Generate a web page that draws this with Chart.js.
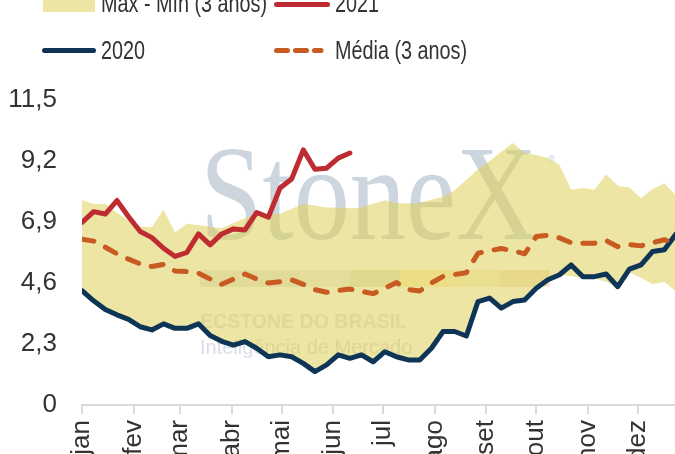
<!DOCTYPE html>
<html lang="pt-BR">
<head>
<meta charset="utf-8">
<title>Máx - Mín (3 anos)</title>
<script src="https://cdn.jsdelivr.net/npm/chart.js@4.4.1/dist/chart.umd.min.js"></script>
<style>
    html, body { margin: 0; padding: 0; background: #ffffff; }
    #moldura { position: relative; width: 675px; height: 454px; overflow: hidden; }
    #grafico { position: absolute; left: 0; top: 0; }
</style>
</head>
<body>
<div id="moldura"><canvas id="grafico" width="700" height="500"></canvas></div>
<script>
// Rótulos dos meses e dia do ano em que cada mês começa (o eixo x é em semanas)
const meses = ['jan', 'fev', 'mar', 'abr', 'mai', 'jun', 'jul', 'ago', 'set', 'out', 'nov', 'dez'];
const inicioMesesDias = [0, 31, 59, 90, 120, 151, 181, 212, 243, 273, 304, 334];
const ticksY = [0, 2.3, 4.6, 6.9, 9.2, 11.5];

// Séries semanais
const maximo3anos = [7.72, 7.58, 7.58, 7.25, 6.95, 6.73, 6.7, 7.36, 6.5, 6.83, 6.79, 6.72, 6.66, 6.86, 7.05, 7.2, 7.2, 7.2, 7.4, 7.58,
    7.52, 7.45, 7.45, 7.42, 7.45, 7.6, 7.71, 7.62, 7.6, 7.62, 7.75, 7.85, 8.1, 8.49, 8.89, 9.2, 9.55, 9.88, 9.5, 9.43,
    9.3, 9.05, 8.12, 8.18, 8.12, 8.7, 8.27, 8.2, 7.8, 8.14, 8.36, 7.9];
const minimo3anos = [4.31, 3.93, 3.6, 3.4, 3.23, 2.95, 2.83, 3.06, 2.89, 2.89, 3.06, 2.62, 2.4, 2.26, 2.39, 2.14, 1.82, 1.89, 1.82, 1.57,
    1.26, 1.51, 1.89, 1.76, 1.89, 1.63, 2.01, 1.82, 1.7, 1.7, 2.14, 2.77, 2.77, 2.6, 3.9, 4.03, 3.65, 3.9, 3.96, 4.4,
    4.72, 4.91, 4.85, 4.8, 4.78, 4.65, 4.46, 5.0, 4.8, 4.55, 4.65, 4.28];
const serie2021 = [6.88, 7.29, 7.2, 7.71, 7.1, 6.54, 6.31, 5.91, 5.6, 5.75, 6.45, 6.04, 6.45, 6.64, 6.6, 7.26, 7.08, 8.18, 8.52, 9.62,
    8.89, 8.93, 9.31, 9.5];
const serie2020 = [4.31, 3.93, 3.6, 3.4, 3.23, 2.95, 2.83, 3.06, 2.89, 2.89, 3.06, 2.62, 2.4, 2.26, 2.39, 2.14, 1.82, 1.89, 1.82, 1.57,
    1.26, 1.51, 1.89, 1.76, 1.89, 1.63, 2.01, 1.82, 1.7, 1.7, 2.14, 2.77, 2.77, 2.6, 3.9, 4.03, 3.65, 3.9, 3.96, 4.4,
    4.72, 4.91, 5.28, 4.84, 4.84, 4.94, 4.46, 5.12, 5.28, 5.79, 5.85, 6.45];
const media3anos = [6.25, 6.18, 5.95, 5.7, 5.5, 5.32, 5.22, 5.3, 5.05, 5.03, 4.97, 4.75, 4.55, 4.75, 4.94, 4.75, 4.6, 4.65, 4.72, 4.55,
    4.35, 4.25, 4.32, 4.37, 4.28, 4.2, 4.4, 4.62, 4.35, 4.3, 4.6, 4.85, 4.92, 4.99, 5.72, 5.82, 5.9, 5.82, 5.7, 6.35,
    6.4, 6.3, 6.12, 6.1, 6.1, 6.2, 5.97, 6.05, 6.0, 6.12, 6.23, 6.1];

// Cores
const cor2021 = '#be2b31';
const cor2020 = '#0e3556';
const corMedia = '#c85a22';
const corFaixa = 'rgba(222, 207, 85, 0.54)';
const corTexto = '#333333';
const corEixo = '#d9d9d9';

const fonteTicks = '"Liberation Sans", Arial, sans-serif';
const fonteLegenda = '25px "Liberation Sans", Arial, sans-serif';

const pontos = (valores) => valores.map((v, i) => ({ x: i, y: v }));

// texto comprimido na horizontal (a fonte original é mais estreita)
const textoEstreito = (ctx, texto, x, y, fator) => {
    ctx.save();
    ctx.translate(x, y);
    ctx.scale(fator, 1);
    ctx.fillText(texto, 0, 0);
    ctx.restore();
};

// Marca d'água StoneX (desenhada antes das séries, fica por baixo da faixa amarela)
const marcaDagua = {
    id: 'marcaDagua',
    beforeDatasetsDraw(chart) {
        const ctx = chart.ctx;
        ctx.save();

        // faixa de cores do logo, bem suave
        const faixa = ['#c4c8cc', '#c4c8cc', '#d3d6d8', '#b4c48c', '#f4dc5c', '#f1e394', '#e8b878'];
        ctx.globalAlpha = 0.4;
        faixa.forEach((c, i) => {
            ctx.fillStyle = c;
            ctx.fillRect(200 + i * 50, 270, 50, 17);
        });
        ctx.globalAlpha = 1;

        // "StoneX"
        ctx.fillStyle = '#cdd6de';
        ctx.font = '136px "Liberation Serif", "DejaVu Serif", serif';
        ctx.textBaseline = 'alphabetic';
        const larg = ctx.measureText('StoneX').width;
        textoEstreito(ctx, 'StoneX', 200, 239, 337 / larg);
        ctx.font = '10px "Liberation Sans", sans-serif';
        ctx.fillText('®', 548, 163);

        // textos do logo
        ctx.fillStyle = '#e0e3e6';
        ctx.font = 'bold 21px "Liberation Sans", sans-serif';
        textoEstreito(ctx, 'ECSTONE DO BRASIL', 200, 328, 207 / ctx.measureText('ECSTONE DO BRASIL').width);

        ctx.fillStyle = '#d9dde7';
        ctx.font = '20px "Liberation Sans", sans-serif';
        ctx.fillText('Inteligência de Mercado', 200, 354);
        ctx.restore();
    }
};

// Legenda desenhada à mão, em duas colunas como no original
const legendaManual = {
    id: 'legendaManual',
    afterDraw(chart) {
        const ctx = chart.ctx;
        const rotulos = chart.data.datasets.map(d => d.label);
        ctx.save();
        ctx.font = fonteLegenda;
        ctx.textBaseline = 'alphabetic';
        const fator = 132 / ctx.measureText(rotulos[1]).width;

        // linha 1
        ctx.fillStyle = corFaixa;
        ctx.fillRect(43, -8, 52, 20);
        ctx.fillStyle = corTexto;
        textoEstreito(ctx, rotulos[3], 101, 12, fator);

        ctx.lineCap = 'round';
        ctx.lineWidth = 5;
        ctx.strokeStyle = cor2021;
        ctx.beginPath(); ctx.moveTo(276.5, 4.5); ctx.lineTo(327.5, 4.5); ctx.stroke();
        textoEstreito(ctx, rotulos[0], 335, 12, fator);

        // linha 2
        ctx.strokeStyle = cor2020;
        ctx.beginPath(); ctx.moveTo(44.5, 50.5); ctx.lineTo(93.5, 50.5); ctx.stroke();
        textoEstreito(ctx, rotulos[2], 101, 59, fator);

        ctx.strokeStyle = corMedia;
        ctx.setLineDash([11, 8]);
        ctx.beginPath(); ctx.moveTo(276.5, 50.5); ctx.lineTo(321, 50.5); ctx.stroke();
        ctx.setLineDash([]);
        textoEstreito(ctx, rotulos[1], 335, 59, fator);
        ctx.restore();
    }
};

const contesto = document.getElementById('grafico').getContext('2d');

new Chart(contesto, {
    type: 'line',
    data: {
        datasets: [
            {
                label: '2021',
                data: pontos(serie2021),
                borderColor: cor2021,
                borderWidth: 5,
                borderJoinStyle: 'round',
                borderCapStyle: 'round',
                pointRadius: 0,
                fill: false,
                order: 1
            },
            {
                label: 'Média (3 anos)',
                data: pontos(media3anos),
                borderColor: corMedia,
                borderWidth: 5,
                borderDash: [12, 13],
                borderJoinStyle: 'round',
                borderCapStyle: 'round',
                pointRadius: 0,
                fill: false,
                order: 2
            },
            {
                label: '2020',
                data: pontos(serie2020),
                borderColor: cor2020,
                borderWidth: 5,
                borderJoinStyle: 'round',
                borderCapStyle: 'round',
                pointRadius: 0,
                fill: false,
                order: 3
            },
            {
                label: 'Máx - Mín (3 anos)',
                data: pontos(maximo3anos),
                borderColor: 'rgba(0,0,0,0)',
                borderWidth: 0,
                backgroundColor: corFaixa,
                pointRadius: 0,
                fill: '+1',
                order: 4
            },
            {
                label: 'mín',
                data: pontos(minimo3anos),
                borderColor: 'rgba(0,0,0,0)',
                borderWidth: 0,
                pointRadius: 0,
                fill: false,
                order: 5
            }
        ]
    },
    options: {
        responsive: false,
        animation: false,
        devicePixelRatio: 1,
        layout: { padding: { top: 100, right: 24, bottom: 0, left: 0 } },
        scales: {
            x: {
                type: 'linear',
                min: 0,
                max: 51,
                afterBuildTicks: (eixo) => { eixo.ticks = inicioMesesDias.map(d => ({ value: d / 7 })); },
                afterFit: (eixo) => { eixo.height = 95; },
                ticks: {
                    autoSkip: false,
                    minRotation: 90,
                    maxRotation: 90,
                    padding: 6,
                    color: corTexto,
                    font: { family: fonteTicks, size: 26 },
                    callback: (valor, indice) => meses[indice]
                },
                grid: { drawOnChartArea: false, drawTicks: true, tickLength: 9, color: corEixo, lineWidth: 2 },
                border: { display: true, color: corEixo, width: 2 }
            },
            y: {
                min: 0,
                max: 11.5,
                afterBuildTicks: (eixo) => { eixo.ticks = ticksY.map(v => ({ value: v })); },
                afterFit: (eixo) => { eixo.width = 82; },
                ticks: {
                    padding: 25,
                    color: corTexto,
                    font: { family: fonteTicks, size: 26 },
                    callback: (valor) => String(valor).replace('.', ',')
                },
                grid: { display: false, drawTicks: false },
                border: { display: false }
            }
        },
        plugins: {
            legend: { display: false },
            tooltip: { enabled: false }
        }
    },
    plugins: [marcaDagua, legendaManual]
});
</script>
</body>
</html>
